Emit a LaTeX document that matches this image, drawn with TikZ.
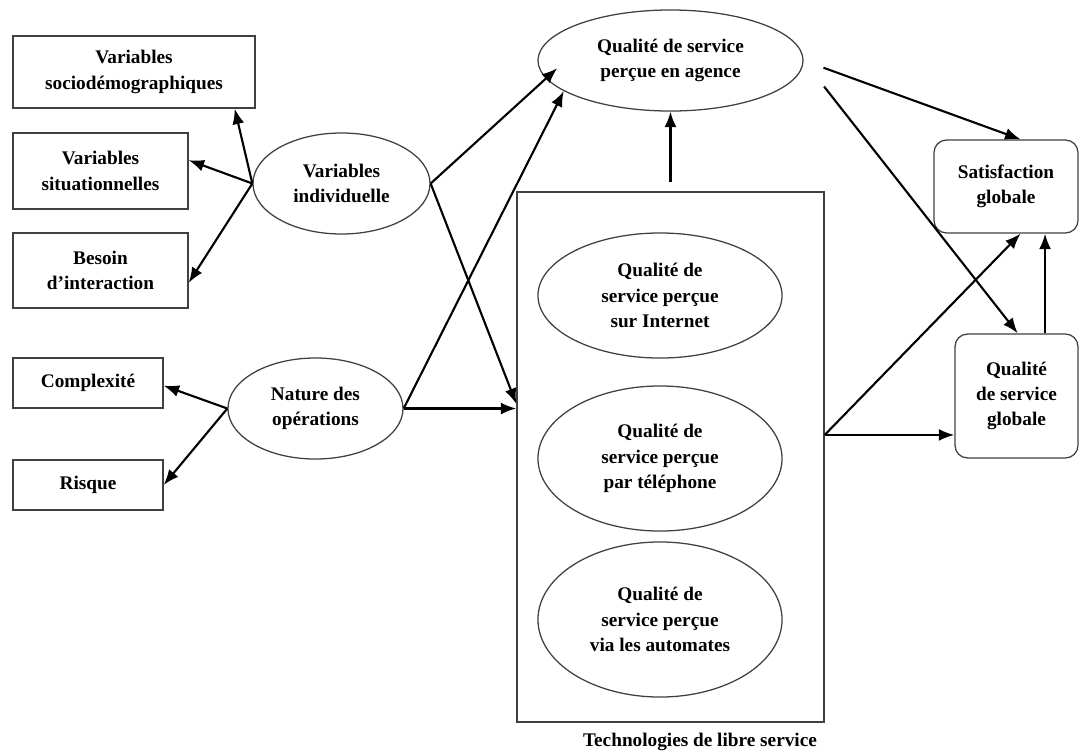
\documentclass[tikz,border=0pt]{standalone}
\usepackage{fontspec}
\setmainfont{Liberation Serif}
\usetikzlibrary{shapes.geometric}
\usetikzlibrary{arrows.meta}
\usetikzlibrary{calc}
\newcommand{\diagfont}{\fontsize{13.7}{18}\selectfont\bfseries}
\tikzset{
  varbox/.style={draw=black!75, line width=0.9pt, inner sep=0pt, align=center, font=\diagfont},
  varell/.style={varbox, ellipse},
  qualbox/.style={varbox, rounded corners=9pt},
  link/.style={-{Latex[length=11pt,width=8.5pt]}, line width=1.5pt}
}

\begin{document}
\begin{tikzpicture}[x={(0.025cm,0cm)}, y={(0cm,-0.025cm)}]
\useasboundingbox (0,0) rectangle (1080,752);

% left-hand variables
\node[varbox, minimum width=6.05cm, minimum height=1.8cm] (sociodemo) at (134,72) {Variables\\sociodémographiques};
\node[varbox, minimum width=4.375cm, minimum height=1.9cm] (situation) at (100.5,171) {Variables\\situationnelles};
\node[varbox, minimum width=4.375cm, minimum height=1.875cm] (interaction) at (100.5,270.5) {Besoin\\d’interaction};
\node[varbox, minimum width=3.75cm, minimum height=1.25cm] (complexite) at (88,383) {Complexité};
\node[varbox, minimum width=3.75cm, minimum height=1.25cm] (risque) at (88,485) {Risque};

\node[varell, minimum width=4.425cm, minimum height=2.525cm] (indiv) at (341.5,183.5) {Variables\\individuelle};
\node[varell, minimum width=4.375cm, minimum height=2.525cm] (nature) at (315.5,408.5) {Nature des\\opérations};

% perceived quality
\node[varell, minimum width=6.625cm, minimum height=2.525cm] (agence) at (670.5,60.5) {Qualité de service\\perçue en agence};

\node[varbox, minimum width=7.675cm, minimum height=13.25cm] (tls) at (670.5,457) {};
\node[varell, minimum width=6.1cm, minimum height=3.125cm] (internet) at (660,295.5) {Qualité de\\service perçue\\sur Internet};
\node[varell, minimum width=6.1cm, minimum height=3.625cm] (telephone) at (660,458.5) {Qualité de\\service perçue\\par téléphone};
\node[varell, minimum width=6.1cm, minimum height=3.875cm] (automates) at (660,619.5) {Qualité de\\service perçue\\via les automates};
\node[font=\diagfont, inner sep=0pt] (tlslabel) at (700,742) {Technologies de libre service};

% outcomes
\node[qualbox, minimum width=3.6cm, minimum height=2.325cm] (satisf) at (1006,186.5) {Satisfaction\\globale};
\node[qualbox, minimum width=3.075cm, minimum height=3.1cm] (globale) at (1016.5,396) {Qualité\\de service\\globale};

\coordinate (tlsin) at ($ (tls.north west)!0.4!(tls.south west) $);
\coordinate (tlsout) at ($ (tls.north east)!0.4585!(tls.south east) $);
\coordinate (satisfin) at ($ (satisf.north west)!0.6!(satisf.north east) $);
\coordinate (satisfup) at ($ (satisf.south west)!0.6!(satisf.south east) $);
\coordinate (globalein) at ($ (globale.north west)!0.51!(globale.north east) $);
\coordinate (globaleup) at ($ (globale.north west)!0.73!(globale.north east) $);

%%%Individual variables
\draw[link] (indiv.west) -- (sociodemo.340);
\draw[link] (indiv.west) -- (situation.7);
\draw[link] (indiv.west) -- (interaction.352);
\draw[link] (nature.west) -- (complexite.358);
\draw[link] (nature.west) -- (risque.east);

%%%Towards perceived quality
\draw[link] (indiv.east) -- ($ (agence.west)!0.15!(agence.south) $);
\draw[link] (indiv.east) -- (tlsin);
\draw[link] (nature.east) -- (agence.196);
\draw[link] (nature.east) -- (nature.east -| tls.west);
\draw[link, shorten <=6.4pt] (tls.north) -- (agence.south);

%%%Towards satisfaction
\draw[link, shorten <=15pt] (agence.east) -- (satisfin);
\draw[link, shorten <=23.5pt] (agence.east) -- (globalein);
\draw[link] (tlsout) -- (tlsout -| globale.west);
\draw[link] (tlsout) -- (satisfup);
\draw[link] (globaleup) -- (globaleup |- satisf.south);

\end{tikzpicture}
\end{document}
